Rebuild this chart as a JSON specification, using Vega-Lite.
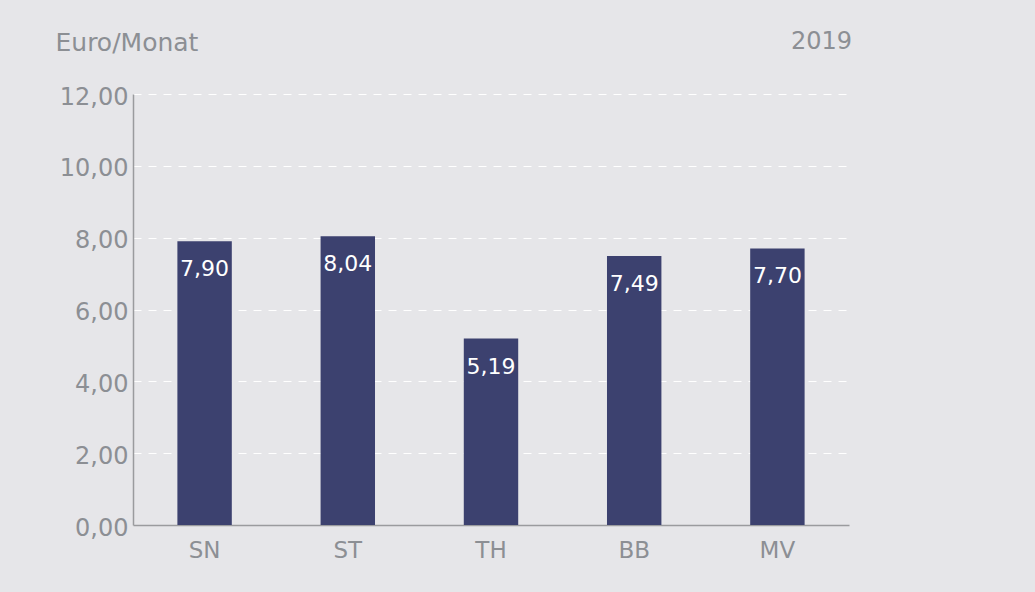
{
  "$schema": "https://vega.github.io/schema/vega-lite/v6.json",
  "width": 716,
  "height": 431,
  "autosize": {"type": "none"},
  "padding": {"left": 133, "top": 94, "right": 186, "bottom": 67},
  "background": "#e6e6e9",
  "title": {
    "text": "2019",
    "anchor": "end",
    "frame": "group",
    "fontSize": 24,
    "font": "DejaVu Sans",
    "fontWeight": "normal",
    "color": "#8c8f94",
    "baseline": "alphabetic",
    "offset": -43,
    "dx": 3
  },
  "data": {
    "values": [
      {"land": "SN", "wert": 7.90},
      {"land": "ST", "wert": 8.04},
      {"land": "TH", "wert": 5.19},
      {"land": "BB", "wert": 7.49},
      {"land": "MV", "wert": 7.70}
    ]
  },
  "encoding": {
    "x": {
      "field": "land",
      "type": "nominal",
      "sort": null,
      "scale": {"paddingInner": 0.62, "paddingOuter": 0.31},
      "axis": {
        "title": null,
        "labelAngle": 0,
        "ticks": false,
        "labelPadding": 14,
        "labelBaseline": "top",
        "labelFontSize": 23,
        "labelColor": "#8c8f94",
        "labelFont": "DejaVu Sans",
        "domainColor": "#9a9b9e",
        "domainWidth": 1.5
      }
    },
    "y": {
      "field": "wert",
      "type": "quantitative",
      "scale": {"domain": [0, 12]},
      "axis": {
        "values": [0, 2, 4, 6, 8, 10, 12],
        "format": ".2f",
        "title": "Euro/Monat",
        "titleAngle": 0,
        "titleX": -78,
        "titleY": -44,
        "titleAlign": "left",
        "titleBaseline": "alphabetic",
        "titleFontSize": 25,
        "titleFontWeight": "normal",
        "titleFont": "DejaVu Sans",
        "titleColor": "#8c8f94",
        "ticks": false,
        "labelPadding": 5,
        "labelOffset": 3,
        "labelFontSize": 24,
        "labelColor": "#8c8f94",
        "labelFont": "DejaVu Sans",
        "domainColor": "#9a9b9e",
        "domainWidth": 1.5,
        "grid": true,
        "gridColor": "#ffffff",
        "gridDash": [8, 7],
        "gridWidth": 1
      }
    }
  },
  "layer": [
    {"mark": {"type": "bar", "color": "#3c416f"}},
    {
      "mark": {
        "type": "text",
        "color": "#ffffff",
        "fontSize": 22,
        "font": "DejaVu Sans",
        "baseline": "middle",
        "dy": 28
      },
      "encoding": {
        "text": {"field": "wert", "type": "quantitative", "format": ".2f"}
      }
    }
  ],
  "config": {
    "view": {"stroke": null},
    "locale": {
      "number": {"decimal": ",", "thousands": ".", "grouping": [3], "currency": ["", " €"]}
    }
  }
}
